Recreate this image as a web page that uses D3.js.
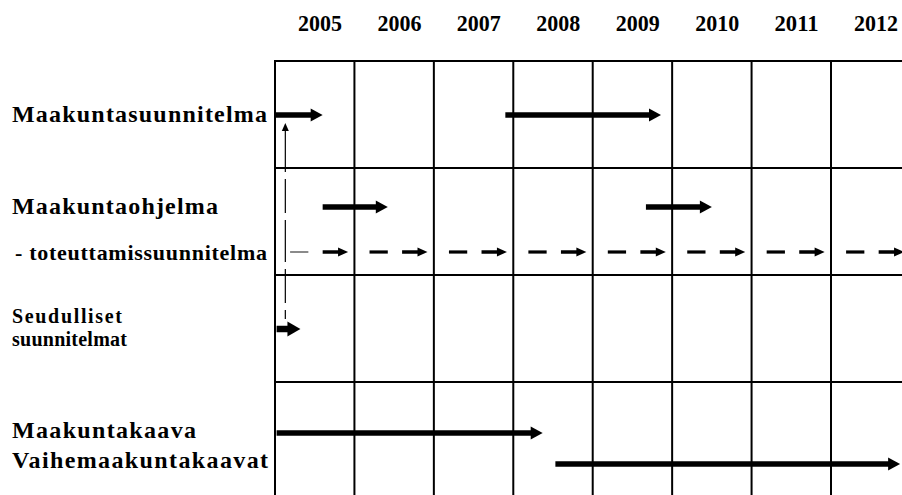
<!DOCTYPE html>
<html>
<head>
<meta charset="utf-8">
<script src="https://cdn.jsdelivr.net/npm/d3@7"></script>
<style>
  body { margin: 0; background: #fff; }
</style>
</head>
<body>
<div id="chart"></div>
<script>
// data
var years = [2005, 2006, 2007, 2008, 2009, 2010, 2011, 2012];
var rows = ["suunnitelma", "ohjelma", "seutu", "kaava"];
var labels = [
    {track: "suunnitelma", lines: ["Maakuntasuunnitelma"]},
    {track: "ohjelma", lines: ["Maakuntaohjelma"]},
    {track: "toteutus", lines: ["- toteuttamissuunnitelma"]},
    {track: "seutu", lines: ["Seudulliset", "suunnitelmat"]},
    {track: "kaava", lines: ["Maakuntakaava"]},
    {track: "vaihe", lines: ["Vaihemaakuntakaavat"]}
];
var arrows = [
    {track: "suunnitelma", from: 2005.0, to: 2005.6},
    {track: "suunnitelma", from: 2007.9, to: 2009.86},
    {track: "ohjelma", from: 2005.6, to: 2006.42},
    {track: "ohjelma", from: 2009.67, to: 2010.5},
    {track: "seutu", from: 2005.02, to: 2005.32},
    {track: "kaava", from: 2005.02, to: 2008.37},
    {track: "vaihe", from: 2008.53, to: 2012.87}
];
var toteutusYears = [2005, 2006, 2007, 2008, 2009, 2010, 2011, 2012];
var connector = {at: 2005.13, from: "seutu", to: "suunnitelma"};

// layout
var totalWidth = 902, totalHeight = 495;
var font = "'Liberation Serif', 'Times New Roman', Times, 'DejaVu Serif', serif";
var trackOffset = {suunnitelma: 54, ohjelma: 39, toteutus: 84, seutu: 54, kaava: 51, vaihe: 82};
var trackRow = {suunnitelma: "suunnitelma", ohjelma: "ohjelma", toteutus: "ohjelma", seutu: "seutu", kaava: "kaava", vaihe: "kaava"};
var labelStyle = {
    suunnitelma: {size: 24, dy: 7, len: [255]},
    ohjelma: {size: 24, dy: 7, len: [206]},
    toteutus: {size: 22, dy: 8, len: [252], x: 15},
    seutu: {size: 20, dy: -6, len: [110, 115], lh: 22.5},
    kaava: {size: 24, dy: 5, len: [184]},
    vaihe: {size: 24, dy: 4, len: [256]}
};

var svg = d3.select("#chart").append("svg")
    .attr("width", totalWidth)
    .attr("height", totalHeight)
    .style("background", "#fff");

var x = d3.scaleLinear()
    .domain([2005, 2012])
    .range([275, 831]);
var y = d3.scaleBand()
    .domain(rows)
    .range([61, 61 + 4 * 107]);
function ty(t) { return y(trackRow[t]) + trackOffset[t]; }

// grid
var grid = svg.append("g").attr("stroke", "#000").attr("stroke-width", 2);
grid.selectAll("line.v")
    .data(years)
    .enter().append("line")
    .attr("class", "v")
    .attr("x1", function(d){ return x(d); })
    .attr("x2", function(d){ return x(d); })
    .attr("y1", y(rows[0]) - 1)
    .attr("y2", totalHeight);
grid.selectAll("line.h")
    .data(rows)
    .enter().append("line")
    .attr("class", "h")
    .attr("x1", x(2005) - 1)
    .attr("x2", totalWidth)
    .attr("y1", function(d){ return y(d); })
    .attr("y2", function(d){ return y(d); });

// year labels
svg.append("g").selectAll("text")
    .data(years)
    .enter().append("text")
    .attr("x", function(d){ return x(d) + 23; })
    .attr("y", 31)
    .attr("textLength", 44)
    .attr("lengthAdjust", "spacingAndGlyphs")
    .attr("font-family", font)
    .attr("font-weight", "bold")
    .attr("font-size", 23)
    .text(function(d){ return d; });

// row labels
labels.forEach(function(l) {
    var s = labelStyle[l.track];
    l.lines.forEach(function(line, i) {
        svg.append("text")
            .attr("x", s.x || 12)
            .attr("y", ty(l.track) + s.dy + i * (s.lh || 0))
            .attr("textLength", s.len[i])
            .attr("lengthAdjust", "spacing")
            .attr("font-family", font)
            .attr("font-weight", "bold")
            .attr("font-size", s.size)
            .text(line);
    });
});

// arrow helper
function arrow(g, x1, x2, yy, w, hl, hw, color) {
    g.append("line")
        .attr("x1", x1).attr("x2", x2 - hl + 1)
        .attr("y1", yy).attr("y2", yy)
        .attr("stroke", color || "#000")
        .attr("stroke-width", w);
    g.append("path")
        .attr("d", "M" + (x2 - hl) + "," + (yy - hw) + "L" + x2 + "," + yy + "L" + (x2 - hl) + "," + (yy + hw) + "Z")
        .attr("fill", color || "#000");
}

var ag = svg.append("g");
arrows.forEach(function(a) {
    var big = a.track === "seutu";
    arrow(ag, x(a.from), x(a.to), ty(a.track), big ? 6.5 : 5.5, big ? 13 : 12, big ? 7.5 : 6.5);
});

// toteuttamissuunnitelma: dash + small arrow in each year
var tg = svg.append("g");
toteutusYears.forEach(function(yr, i) {
    var yy = ty("toteutus");
    tg.append("line")
        .attr("x1", x(yr + 0.19)).attr("x2", x(yr + 0.42))
        .attr("y1", yy).attr("y2", yy)
        .attr("stroke", i === 0 ? "#8a8a8a" : "#000")
        .attr("stroke-width", i === 0 ? 2 : 3.2);
    arrow(tg, x(yr + 0.6), x(yr + 0.92), yy, 3.5, 10, 4.5);
});

// dashed connector up to Maakuntasuunnitelma
var cx = x(connector.at);
var cTop = ty(connector.to) + 8, cBottom = ty(connector.from) - 10;
svg.append("line")
    .attr("x1", cx).attr("x2", cx)
    .attr("y1", cTop + 7).attr("y2", cBottom)
    .attr("stroke", "#000")
    .attr("stroke-width", 1.2)
    .attr("stroke-dasharray", "42,7,34,7");
svg.append("path")
    .attr("d", "M" + (cx - 3.5) + "," + (cTop + 8) + "L" + cx + "," + cTop + "L" + (cx + 3.5) + "," + (cTop + 8) + "Z")
    .attr("fill", "#000");
</script>
</body>
</html>
